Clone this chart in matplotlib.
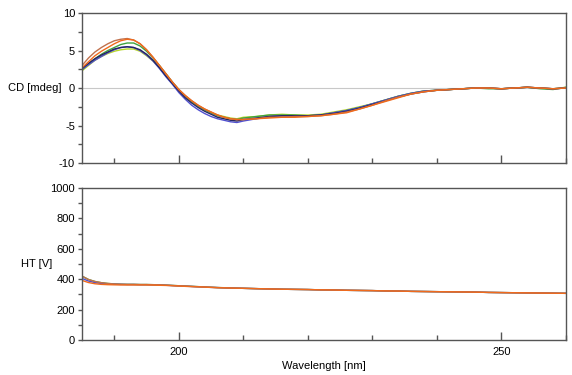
import matplotlib
matplotlib.use("Agg")
import matplotlib.pyplot as plt
from matplotlib.ticker import MultipleLocator

# wavelength grid [nm]
wl = [185, 186, 187, 188, 189, 190, 191, 192, 193, 194, 195, 196, 197, 198, 199,
      200, 201, 202, 203, 204, 205, 206, 207, 208, 209, 210, 212, 214, 216, 218,
      220, 222, 224, 226, 228, 230, 232, 234, 236, 238, 240, 242, 244, 246, 248,
      250, 252, 254, 256, 258, 260]

# CD spectra [mdeg]
cd_brown = [3.0, 4.0, 4.8, 5.4, 5.9, 6.3, 6.5, 6.6, 6.4, 5.9, 5.1, 4.1, 3.0, 1.9, 0.8,
            -0.2, -1.0, -1.7, -2.3, -2.8, -3.2, -3.6, -3.9, -4.1, -4.2, -4.2, -4.1, -3.9, -3.9, -3.8,
            -3.8, -3.7, -3.5, -3.2, -2.8, -2.3, -1.7, -1.2, -0.8, -0.5, -0.3, -0.2, -0.1, 0.0, 0.0,
            -0.1, 0.0, 0.1, 0.0, -0.1, 0.0]
cd_orange = [2.7, 3.5, 4.3, 4.9, 5.4, 5.9, 6.3, 6.5, 6.4, 5.9, 5.1, 4.1, 3.0, 1.9, 0.8,
             -0.2, -1.0, -1.7, -2.3, -2.8, -3.2, -3.6, -3.9, -4.1, -4.2, -4.2, -4.1, -4.0, -3.9, -3.9,
             -3.8, -3.7, -3.5, -3.3, -2.8, -2.3, -1.8, -1.3, -0.8, -0.5, -0.3, -0.2, -0.1, 0.0, 0.0,
             -0.1, 0.0, 0.1, 0.0, -0.1, 0.0]
cd_green = [2.4, 3.2, 3.9, 4.5, 5.0, 5.4, 5.8, 6.0, 6.0, 5.6, 4.9, 4.0, 3.0, 1.9, 0.8,
            -0.2, -1.1, -1.8, -2.4, -2.9, -3.3, -3.7, -3.9, -4.1, -4.2, -4.0, -3.8, -3.6, -3.6, -3.6,
            -3.7, -3.6, -3.3, -3.0, -2.6, -2.1, -1.6, -1.1, -0.7, -0.4, -0.3, -0.2, -0.1, 0.0, -0.1,
            -0.1, 0.0, 0.1, -0.1, -0.2, 0.1]
cd_yellow = [2.3, 3.0, 3.7, 4.2, 4.6, 4.9, 5.1, 5.2, 5.2, 4.9, 4.3, 3.6, 2.7, 1.7, 0.7,
             -0.3, -1.1, -1.8, -2.4, -2.9, -3.3, -3.6, -3.8, -4.0, -4.1, -3.9, -3.8, -3.6, -3.5, -3.6,
             -3.6, -3.5, -3.2, -2.9, -2.5, -2.1, -1.6, -1.1, -0.7, -0.4, -0.3, -0.2, -0.1, 0.0, 0.0,
             -0.1, 0.0, 0.1, 0.0, -0.1, 0.1]
cd_blue = [2.5, 3.1, 3.7, 4.2, 4.7, 5.1, 5.4, 5.5, 5.4, 5.0, 4.4, 3.6, 2.6, 1.5, 0.5,
           -0.6, -1.5, -2.3, -2.9, -3.4, -3.8, -4.1, -4.3, -4.5, -4.6, -4.4, -4.1, -3.8, -3.7, -3.7,
           -3.7, -3.6, -3.3, -3.0, -2.6, -2.1, -1.6, -1.1, -0.7, -0.4, -0.3, -0.2, -0.1, 0.0, 0.0,
           -0.1, 0.0, 0.1, 0.0, -0.1, 0.0]
cd_navy = [2.6, 3.3, 3.9, 4.4, 4.8, 5.2, 5.4, 5.5, 5.4, 5.1, 4.5, 3.7, 2.7, 1.6, 0.6,
           -0.4, -1.3, -2.0, -2.6, -3.1, -3.5, -3.9, -4.1, -4.3, -4.4, -4.2, -4.0, -3.8, -3.7, -3.7,
           -3.7, -3.6, -3.4, -3.1, -2.7, -2.2, -1.7, -1.2, -0.8, -0.5, -0.3, -0.2, -0.1, 0.0, 0.0,
           -0.1, 0.0, 0.1, 0.0, -0.1, 0.0]

# HT voltage [V]
ht_a = [420, 398, 385, 377, 372, 369, 367, 366, 366, 365, 365, 364, 363, 361, 359,
        357, 355, 353, 351, 349, 347, 345, 344, 342, 341, 340, 338, 336, 334, 333,
        332, 330, 329, 327, 326, 325, 323, 322, 320, 319, 318, 317, 316, 315, 313,
        312, 311, 310, 309, 308, 307]
ht_b = [405, 388, 378, 372, 369, 367, 366, 365, 365, 364, 364, 363, 362, 360, 358,
        356, 354, 352, 350, 348, 346, 345, 343, 342, 341, 340, 338, 336, 334, 333,
        332, 330, 329, 327, 326, 325, 323, 322, 320, 319, 318, 317, 316, 315, 313,
        312, 311, 310, 309, 308, 307]
ht_c = [392, 378, 370, 366, 364, 363, 362, 362, 362, 362, 362, 361, 360, 359, 357,
        355, 353, 351, 350, 348, 346, 344, 343, 342, 341, 340, 338, 336, 334, 333,
        332, 330, 329, 327, 326, 325, 323, 322, 320, 319, 318, 317, 316, 315, 313,
        312, 311, 310, 309, 308, 307]

cd_series = [(cd_yellow, "#b7d62a"), (cd_green, "#3fa33f"), (cd_blue, "#5050d0"),
             (cd_navy, "#262660"), (cd_brown, "#c0714d"), (cd_orange, "#f06a1c")]
ht_series = [(ht_a, "#3fa33f"), (ht_b, "#5050d0"), (ht_a, "#c0714d"), (ht_c, "#f06a1c")]

plt.rcParams['font.family'] = ['Liberation Sans', 'DejaVu Sans']
plt.rcParams['font.size'] = 8
plt.rcParams['axes.unicode_minus'] = False

fig = plt.figure(figsize=(5.72, 3.75), dpi=100)
ax1 = fig.add_axes([0.1434, 0.5653, 0.8461, 0.4000])
ax2 = fig.add_axes([0.1434, 0.0933, 0.8461, 0.4054])

for vals, c in cd_series:
    ax1.plot(wl, vals, color=c, lw=1.0)
ax1.axhline(0, color="#c8c8c8", lw=0.8, zorder=0)

for vals, c in ht_series:
    ax2.plot(wl, vals, color=c, lw=1.0)

ax1.set_ylim(-10, 10)
ax1.yaxis.set_major_locator(MultipleLocator(5))
ax1.yaxis.set_minor_locator(MultipleLocator(2.5))
ax2.set_ylim(0, 1000)
ax2.yaxis.set_major_locator(MultipleLocator(200))
ax2.yaxis.set_minor_locator(MultipleLocator(100))

for ax in (ax1, ax2):
    ax.set_xlim(185, 260)
    ax.xaxis.set_major_locator(MultipleLocator(50))
    ax.xaxis.set_minor_locator(MultipleLocator(10))
    ax.tick_params(axis='x', which='major', direction='in', length=6, width=1, color="#555555", pad=5)
    ax.tick_params(axis='x', which='minor', direction='in', length=3.5, width=1, color="#555555")
    ax.tick_params(axis='y', which='both', direction='out', length=3, width=1, color="#555555", pad=2)
    for s in ax.spines.values():
        s.set_color("#555555")
        s.set_linewidth(1.0)

ax1.tick_params(axis='x', labelbottom=False)

ax1.text(-0.043, 0.5, "CD [mdeg]", transform=ax1.transAxes, ha='right', va='center')
ax2.text(-0.062, 0.5, "HT [V]", transform=ax2.transAxes, ha='right', va='center')
ax2.set_xlabel("Wavelength [nm]", labelpad=3)

fig.savefig("out.png", dpi=100)
